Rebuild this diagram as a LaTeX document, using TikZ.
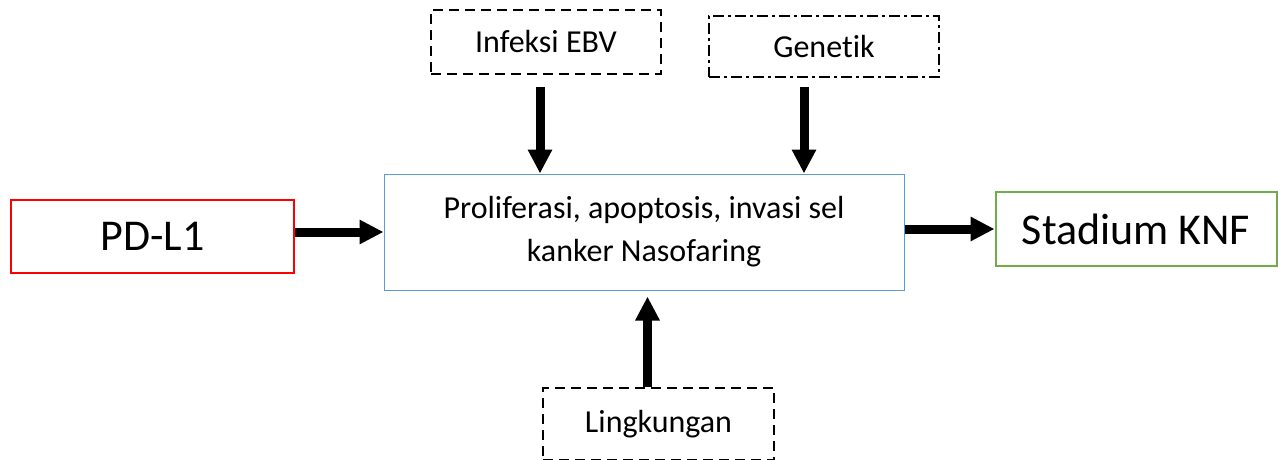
\documentclass[tikz,border=0pt]{standalone}
\usepackage{fontspec}
\setmainfont[Ligatures=NoCommon]{Carlito}
\usetikzlibrary{arrows.meta}
\definecolor{boxblue}{RGB}{91,155,213}
\definecolor{boxgreen}{RGB}{112,173,71}
\tikzset{
  box/.style={draw, rectangle, inner sep=0pt, align=center},
  dashbox/.style={box, line width=2pt, dash pattern=on 10pt off 6pt},
  dotdashbox/.style={box, line width=2pt, dash pattern=on 11pt off 4pt on 3pt off 4pt},
  arr/.style={line width=9pt, -{Triangle[length=24pt,width=23pt]}},
  midtxt/.style={font=\fontsize{32}{43}\selectfont},
  bigtxt/.style={font=\fontsize{44}{50}\selectfont}
}
\begin{document}
\begin{tikzpicture}[x=1pt,y=-1pt]
\useasboundingbox (0,0) rectangle (1278,460);
\node[box, draw=boxblue, line width=1pt, minimum width=520pt, minimum height=116pt, midtxt] (center) at (644,232) {Proliferasi, apoptosis, invasi sel\\kanker Nasofaring};
\node[dashbox, minimum width=230pt, minimum height=64pt, midtxt] (ebv) at (546,42) {Infeksi EBV};
\node[dotdashbox, minimum width=230pt, minimum height=61pt, midtxt] (gen) at (824,46.5) {Genetik};
\node[dashbox, minimum width=231pt, minimum height=72pt, midtxt] (ling) at (658.5,424) {Lingkungan};
\node[box, draw=red, line width=2pt, minimum width=283pt, minimum height=73pt, bigtxt] (pd) at (152.5,236.5) {PD-L1};
\node[box, draw=boxgreen, line width=2pt, minimum width=281pt, minimum height=74pt, bigtxt] (knf) at (1136,229) {Stadium KNF};
\draw[arr] ([xshift=-6pt,yshift=-12pt]ebv.south) -- ([xshift=-6pt]ebv.south |- center.north);
\draw[arr] ([xshift=-20pt,yshift=-9pt]gen.south) -- ([xshift=-20pt]gen.south |- center.north);
\draw[arr] ([xshift=-11pt]ling.north) -- ([xshift=-11pt,yshift=-6pt]ling.north |- center.south);
\draw[arr] (pd.east |- 0,232) -- (center.west |- 0,232);
\draw[arr] (center.east |- knf.west) -- (knf.west);
\end{tikzpicture}
\end{document}
